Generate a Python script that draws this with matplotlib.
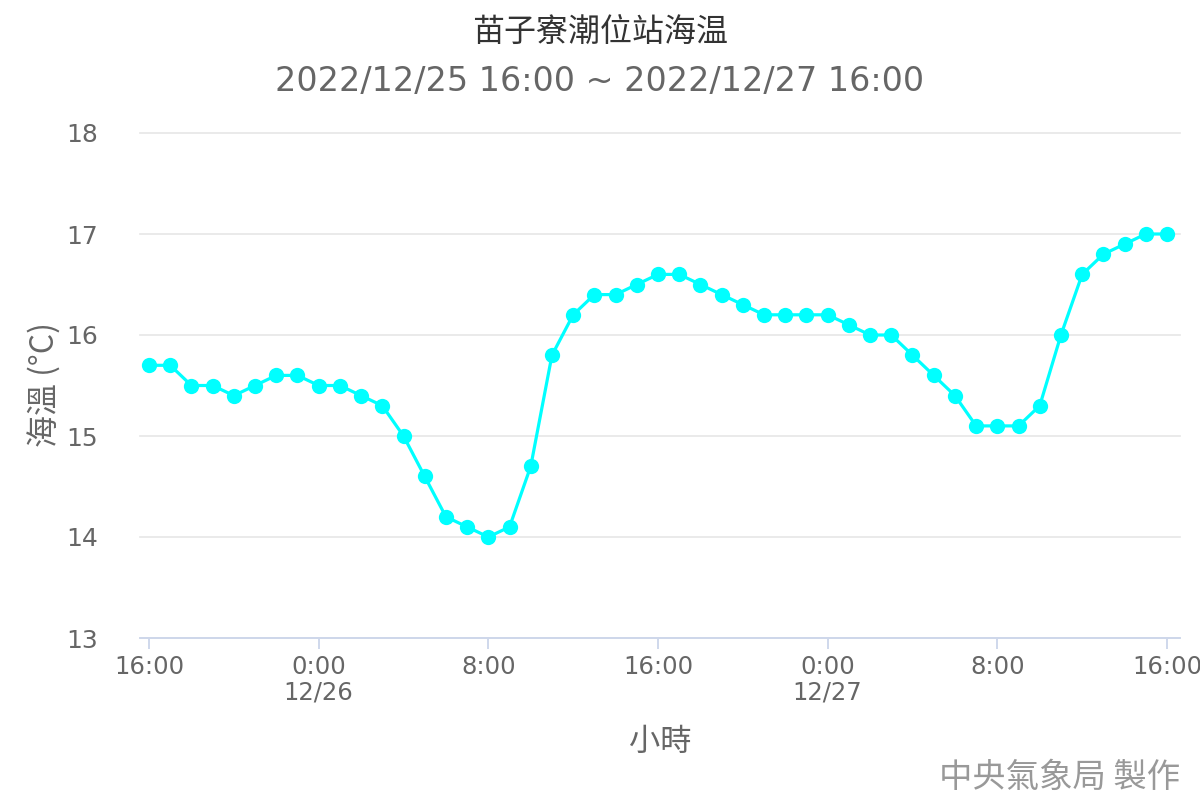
import matplotlib
matplotlib.use('Agg')
import matplotlib.pyplot as plt

plt.rcParams['font.family'] = ['DejaVu Sans', 'Noto Sans CJK TC']

# Données horaires (2022/12/25 16:00 -> 2022/12/27 16:00)
hours = list(range(49))
temps = [15.7, 15.7, 15.5, 15.5, 15.4, 15.5, 15.6, 15.6,
         15.5, 15.5, 15.4, 15.3, 15.0, 14.6, 14.2, 14.1,
         14.0, 14.1, 14.7, 15.8, 16.2, 16.4, 16.4, 16.5,
         16.6, 16.6, 16.5, 16.4, 16.3, 16.2, 16.2, 16.2,
         16.2, 16.1, 16.0, 16.0, 15.8, 15.6, 15.4, 15.1,
         15.1, 15.1, 15.3, 16.0, 16.6, 16.8, 16.9, 17.0,
         17.0]
tick_pos = [0, 8, 16, 24, 32, 40, 48]
tick_labels = ['16:00', '0:00\n12/26', '8:00', '16:00', '0:00\n12/27', '8:00', '16:00']
y_ticks = [13, 14, 15, 16, 17, 18]

fig = plt.figure(figsize=(12, 8), dpi=100)
ax = fig.add_axes([140/1200, 1-638/800, 1040/1200, 505/800])

ax.plot(hours, temps, color='#00ffff', lw=2.3, marker='o', ms=11,
        markeredgewidth=0, zorder=3, clip_on=False)

ax.set_xlim(-9/21.208, 48 + 13/21.208)
ax.set_ylim(13, 18)
ax.set_yticks(y_ticks)
ax.grid(axis='y', color='#e6e6e6', lw=1.2)
for gl in ax.get_ygridlines():
    gl.set_clip_on(False)
ax.set_axisbelow(True)
for s in ['left', 'right', 'top']:
    ax.spines[s].set_visible(False)
ax.spines['bottom'].set_color('#ccd6eb')
ax.spines['bottom'].set_linewidth(1.3)
ax.tick_params(axis='y', length=0, pad=30, labelsize=18, labelcolor='#666666')
ax.set_xticks(tick_pos)
ax.set_xticklabels(tick_labels, linespacing=1.1)
ax.tick_params(axis='x', length=8, width=1.3, color='#ccd6eb', pad=4,
               labelsize=17.5, labelcolor='#666666')
# dernier libellé légèrement décalé pour ne pas sortir du cadre
ax.get_xticklabels()[-1].set_horizontalalignment('center')

fig.text(0.5, 1-32/800, '苗子寮潮位站海温', ha='center', va='center',
         fontsize=23, color='#333333', family=['Noto Sans CJK TC', 'DejaVu Sans'])
fig.text(0.5, 1-82/800, '2022/12/25 16:00 ~ 2022/12/27 16:00', ha='center', va='center',
         fontsize=24, color='#666666')
fig.text(45/1200, 1-385/800, '海溫 (°C)', ha='center', va='center', rotation=90,
         fontsize=23, color='#666666', family=['Noto Sans CJK TC', 'DejaVu Sans'])
fig.text(660/1200, 1-742/800, '小時', ha='center', va='center',
         fontsize=22.5, color='#666666', family=['Noto Sans CJK TC', 'DejaVu Sans'])
fig.text(1180/1200, 1-777/800, '中央氣象局 製作', ha='right', va='center',
         fontsize=24, color='#999999', family=['Noto Sans CJK TC', 'DejaVu Sans'])

fig.savefig('out.png', dpi=100)
